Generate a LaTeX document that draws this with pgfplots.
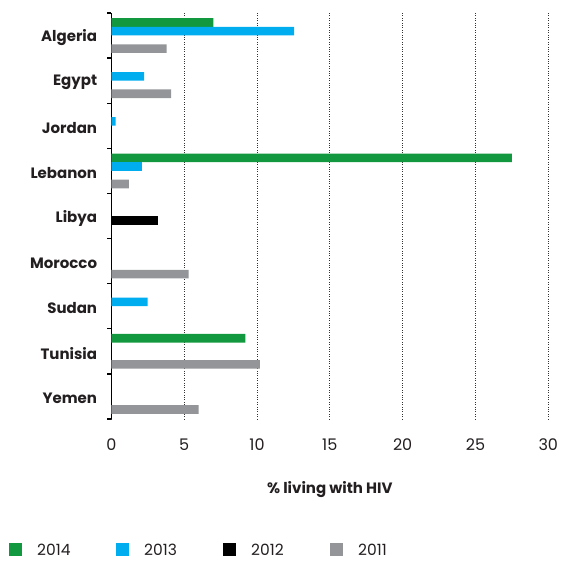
\documentclass[border=0pt]{standalone}
\usepackage{pgfplots}
\pgfplotsset{compat=1.18}
\usepackage{fontspec}
\setmainfont{Poppins}
\definecolor{cgreen}{HTML}{12993F}
\definecolor{cblue}{HTML}{00AEEF}
\definecolor{cgrey}{HTML}{939598}
\definecolor{ctext}{HTML}{231F20}
\begin{document}
\begin{tikzpicture}
\useasboundingbox (0,0) rectangle (563pt,562pt);
\begin{axis}[
  at={(111.3pt,143pt)}, anchor=south west,
  scale only axis, width=437pt, height=406pt,
  xmin=0, xmax=30, ymin=-0.5, ymax=8.5,
  xbar, bar width=0.19,
  axis lines*=left,
  axis line style={-},
  x axis line style={draw=none},
  y axis line style={line width=1.3pt, black},
  xtick={0,5,...,30},
  ytick={0,...,8},
  yticklabels={Yemen,Tunisia,Sudan,Morocco,Libya,Lebanon,Jordan,Egypt,Algeria},
  minor ytick={-0.5,0.5,...,8.5},
  major tick length=0pt,
  minor tick length=4pt,
  tick align=outside,
  minor tick style={line width=1.3pt, black},
  xmajorgrids,
  major grid style={dotted, black!80, line width=0.9pt},
  /pgf/number format/assume math mode=true,
  xticklabel style={anchor=center, yshift=-26pt, inner sep=0pt, font=\fontsize{16}{16}\selectfont, text=ctext},
  yticklabel style={anchor=east, xshift=-14pt, yshift=-2pt, inner sep=0pt, font=\bfseries\fontsize{15}{15}\selectfont, text=ctext},
  xlabel={\% living with HIV},
  xlabel style={at={(axis description cs:0.5,-0.175)}, anchor=center, font=\bfseries\fontsize{15}{15}\selectfont, text=ctext},
  legend image code/.code={\fill[#1] (0pt,-6.5pt) rectangle (13pt,6.5pt);},
  legend style={draw=none, fill=none, at={(axis description cs:-0.234,-0.322)}, anchor=west,
    legend columns=4, inner sep=0pt,
    nodes={inner sep=0pt, anchor=west, text width=38pt, text depth=0pt, font=\fontsize{15.5}{15.5}\selectfont, text=ctext},
    /tikz/every odd column/.append style={column sep=15pt},
    /tikz/every even column/.append style={column sep=41pt}},
]
\addplot[draw=none, fill=cgreen, bar shift=0.29] coordinates {(7.0,8) (27.5,5) (9.2,1)};
\addplot[draw=none, fill=cblue, bar shift=0.097] coordinates {(12.55,8) (2.25,7) (0.3,6) (2.1,5) (2.5,2)};
\addplot[draw=none, fill=black, bar shift=-0.097] coordinates {(3.2,4)};
\addplot[draw=none, fill=cgrey, bar shift=-0.29] coordinates {(3.8,8) (4.1,7) (1.2,5) (5.3,3) (10.2,1) (6.0,0)};
\legend{2014,2013,2012,2011}
\end{axis}
\end{tikzpicture}
\end{document}
